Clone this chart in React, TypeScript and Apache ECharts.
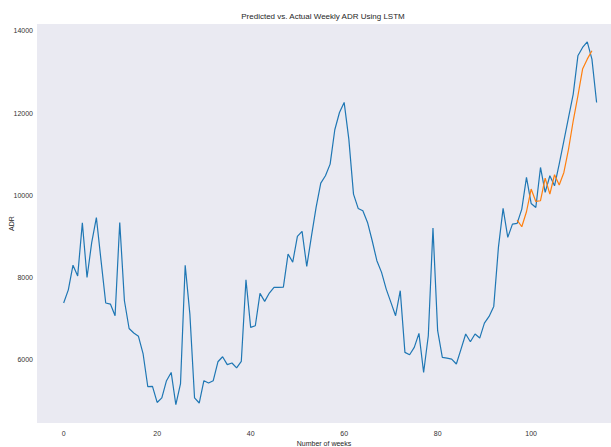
import React, { useEffect, useRef } from "react";
import * as echarts from "echarts";

const weeks: number[] = Array.from({ length: 115 }, (_, i) => i);

const actualADR: number[] = [
  7380, 7700, 8300, 8040, 9330, 8000, 8850, 9460, 8410, 7380,
  7355, 7070, 9340, 7435, 6760, 6650, 6570, 6140, 5343, 5350,
  4960, 5070, 5490, 5690, 4905, 5420, 8300, 7110, 5070, 4946,
  5490, 5432, 5490, 5950, 6073, 5880, 5920, 5800, 5960, 7946,
  6787, 6827, 7614, 7419, 7622, 7760, 7760, 7765, 8571, 8376,
  9000, 9122, 8271, 9000, 9706, 10298, 10477, 10760, 11597, 12017,
  12261, 11369, 10031, 9682, 9625, 9341, 8895, 8409, 8125, 7719,
  7395, 7071, 7679, 6178, 6122, 6300, 6641, 5690, 6584, 9203,
  6706, 6057, 6040, 6016, 5895, 6259, 6625, 6438, 6625, 6527,
  6892, 7054, 7298, 8733, 9682, 8977, 9301, 9317, 9666, 10436,
  9803, 9706, 10679, 10071, 10477, 10233, 10761, 11328, 11896, 12464,
  13396, 13599, 13737, 13315, 12261,
];

const predictedStart = 97;
const predictedADR: number[] = [
  9398, 9236, 9601, 10153, 9852, 9869, 10420, 10031, 10501, 10250,
  10558, 11126, 11815, 12423, 13072, 13315, 13518,
];

const yTicks: number[] = [6000, 8000, 10000, 12000, 14000];
const xTicks: number[] = [0, 20, 40, 60, 80, 100];

const titleText = "Predicted vs. Actual Weekly ADR Using LSTM";
const xName = "Number of weeks";
const yName = "ADR";

export default function App() {
  const ref = useRef<HTMLDivElement>(null);
  useEffect(() => {
    if (!ref.current) return;
    const chart = echarts.init(ref.current, null, { renderer: "svg" });
    const font = "'Liberation Sans', Arial, sans-serif";
    const actual = weeks.map((w, i) => [w, actualADR[i]]);
    const predicted = predictedADR.map((v, i) => [predictedStart + i, v]);
    chart.setOption({
      animation: false,
      backgroundColor: "#ffffff",
      title: {
        text: titleText,
        left: 318,
        top: 7,
        textAlign: "center",
        textStyle: { fontSize: 8, fontWeight: "normal", color: "#262626", fontFamily: font },
      },
      grid: {
        left: 37,
        top: 24,
        width: 574,
        height: 399,
        backgroundColor: "#EAEAF2",
        show: true,
        borderWidth: 0,
        containLabel: false,
        outerBoundsMode: "none",
      },
      xAxis: {
        type: "value",
        min: -5.7,
        max: 117.08,
        name: xName,
        nameLocation: "middle",
        nameGap: 17,
        nameMoveOverlap: false,
        nameTextStyle: { fontSize: 7, color: "#262626", fontFamily: font },
        axisLine: { show: false },
        axisTick: { show: false },
        splitLine: { show: false },
        axisLabel: {
          fontSize: 7,
          color: "#333",
          fontFamily: font,
          margin: 7,
          formatter: (v: number) => (xTicks.includes(Math.round(v * 1000) / 1000) ? String(v) : ""),
        },
      },
      yAxis: {
        type: "value",
        min: 4460,
        max: 14170,
        name: yName,
        nameLocation: "middle",
        nameGap: 22,
        nameRotate: 90,
        nameMoveOverlap: false,
        nameTextStyle: { fontSize: 7, color: "#262626", fontFamily: font },
        axisLine: { show: false },
        axisTick: { show: false },
        splitLine: { show: false },
        axisLabel: {
          fontSize: 7,
          color: "#333",
          fontFamily: font,
          margin: 4,
          formatter: (v: number) => (yTicks.includes(Math.round(v)) ? String(v) : ""),
        },
      },
      series: [
        {
          type: "line",
          data: actual,
          showSymbol: false,
          lineStyle: { color: "#1f77b4", width: 1.2 },
          itemStyle: { color: "#1f77b4" },
        },
        {
          type: "line",
          data: predicted,
          showSymbol: false,
          lineStyle: { color: "#ff7f0e", width: 1.2 },
          itemStyle: { color: "#ff7f0e" },
        },
      ],
    });
    return () => chart.dispose();
  }, []);
  return (
    <div
      ref={ref}
      style={{ position: "fixed", left: 0, top: 0, width: 611, height: 447 }}
    />
  );
}
